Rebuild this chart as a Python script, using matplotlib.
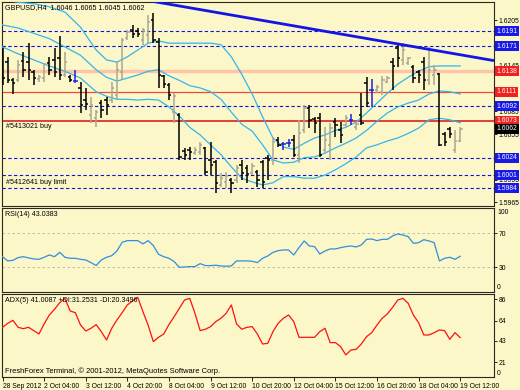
import matplotlib
matplotlib.use("Agg")
import matplotlib.pyplot as plt
from matplotlib.transforms import blended_transform_factory

plt.rcParams['font.family'] = ['Liberation Sans', 'DejaVu Sans']

# ---------------- data ----------------
title_text = "GBPUSD,H4  1.6046 1.6065 1.6045 1.6062"

opens = [1.6159, 1.6150, 1.6126, 1.6126, 1.6152, 1.6150, 1.6137, 1.6128, 1.6129, 1.6149,
         1.6153, 1.6155, 1.6133, 1.6130, 1.6125, 1.6116, 1.6100, 1.6080, 1.6076, 1.6096,
         1.6100, 1.6100, 1.6107, 1.6137, 1.6182, 1.6192, 1.6191, 1.6179, 1.6186, 1.6205,
         1.6177, 1.6132, 1.6120, 1.6084, 1.6080, 1.6033, 1.6034, 1.6030, 1.6032, 1.6037,
         1.6021, 1.6018, 1.5988, 1.5992, 1.5995, 1.5995, 1.6014, 1.6010, 1.6004, 1.6005,
         1.6018, 1.6024, 1.6021, 1.6047, 1.6042, 1.6043, 1.6047, 1.6028, 1.6061, 1.6090,
         1.6075, 1.6076, 1.6034, 1.6041, 1.6071, 1.6061, 1.6067, 1.6074, 1.6065, 1.6080,
         1.6122, 1.6113, 1.6113, 1.6111, 1.6124, 1.6150, 1.6169, 1.6153, 1.6149, 1.6144,
         1.6137, 1.6150, 1.6126, 1.6133, 1.6134, 1.6055, 1.6062, 1.6034, 1.6046]
highs = [1.6169, 1.6157, 1.6129, 1.6153, 1.6163, 1.6175, 1.6140, 1.6133, 1.6149, 1.6157,
         1.6169, 1.6184, 1.6163, 1.6133, 1.6140, 1.6124, 1.6116, 1.6104, 1.6087, 1.6100,
         1.6104, 1.6124, 1.6150, 1.6182, 1.6192, 1.6199, 1.6195, 1.6195, 1.6212, 1.6215,
         1.6182, 1.6133, 1.6123, 1.6109, 1.6083, 1.6037, 1.6038, 1.6038, 1.6045, 1.6038,
         1.6045, 1.6021, 1.6004, 1.6005, 1.5997, 1.6014, 1.6021, 1.6014, 1.6017, 1.6008,
         1.6021, 1.6028, 1.6051, 1.6051, 1.6045, 1.6049, 1.6054, 1.6074, 1.6094, 1.6094,
         1.6078, 1.6083, 1.6065, 1.6070, 1.6076, 1.6071, 1.6080, 1.6082, 1.6071, 1.6109,
         1.6130, 1.6128, 1.6120, 1.6132, 1.6132, 1.6155, 1.6175, 1.6175, 1.6157, 1.6146,
         1.6140, 1.6157, 1.6170, 1.6146, 1.6136, 1.6058, 1.6065, 1.6060, 1.6065]
lows = [1.6120, 1.6123, 1.6108, 1.6124, 1.6130, 1.6126, 1.6120, 1.6124, 1.6124, 1.6133,
        1.6130, 1.6126, 1.6130, 1.6124, 1.6123, 1.6083, 1.6087, 1.6070, 1.6065, 1.6076,
        1.6080, 1.6096, 1.6100, 1.6126, 1.6179, 1.6182, 1.6183, 1.6173, 1.6175, 1.6175,
        1.6116, 1.6116, 1.6100, 1.6070, 1.6021, 1.6021, 1.6021, 1.6028, 1.6028, 1.6001,
        1.6001, 1.5978, 1.5985, 1.5984, 1.5978, 1.5991, 1.5995, 1.5991, 1.6001, 1.5985,
        1.5984, 1.5995, 1.6014, 1.6038, 1.6034, 1.6038, 1.6025, 1.6017, 1.6057, 1.6063,
        1.6057, 1.6025, 1.6030, 1.6021, 1.6051, 1.6043, 1.6063, 1.6067, 1.6061, 1.6067,
        1.6091, 1.6091, 1.6109, 1.6107, 1.6123, 1.6113, 1.6144, 1.6146, 1.6146, 1.6123,
        1.6123, 1.6113, 1.6120, 1.6120, 1.6039, 1.6039, 1.6050, 1.6030, 1.6045]
closes = [1.6129, 1.6126, 1.6123, 1.6146, 1.6140, 1.6140, 1.6129, 1.6130, 1.6148, 1.6140,
          1.6137, 1.6133, 1.6150, 1.6126, 1.6125, 1.6094, 1.6095, 1.6094, 1.6084, 1.6087,
          1.6094, 1.6116, 1.6140, 1.6179, 1.6190, 1.6187, 1.6187, 1.6192, 1.6203, 1.6179,
          1.6133, 1.6121, 1.6107, 1.6105, 1.6025, 1.6028, 1.6032, 1.6034, 1.6041, 1.6005,
          1.6014, 1.5991, 1.5997, 1.6000, 1.5991, 1.6010, 1.6004, 1.6003, 1.6013, 1.5995,
          1.5992, 1.6021, 1.6045, 1.6041, 1.6042, 1.6043, 1.6028, 1.6057, 1.6090, 1.6074,
          1.6070, 1.6028, 1.6047, 1.6063, 1.6067, 1.6054, 1.6076, 1.6074, 1.6068, 1.6070,
          1.6096, 1.6113, 1.6117, 1.6126, 1.6129, 1.6145, 1.6155, 1.6166, 1.6155, 1.6129,
          1.6133, 1.6126, 1.6140, 1.6140, 1.6041, 1.6045, 1.6055, 1.6046, 1.6062]

band_bars = [0, 3, 6, 9, 12, 15, 18, 20, 22, 24, 26, 28, 30, 32, 34, 36, 38, 40, 42, 44,
             46, 48, 50, 52, 54, 56, 58, 60, 62, 64, 66, 68, 70, 72, 74, 76, 78, 80, 82, 84,
             86, 88]
band_upper = [1.6232, 1.6229, 1.6227, 1.6223, 1.6216, 1.6196, 1.6166, 1.6153, 1.6150, 1.6157,
              1.6166, 1.6175, 1.6178, 1.6175, 1.6175, 1.6175, 1.6175, 1.6175, 1.6173, 1.6157,
              1.6134, 1.6108, 1.6078, 1.6050, 1.6038, 1.6035, 1.6043, 1.6050, 1.6054, 1.6060,
              1.6064, 1.6071, 1.6083, 1.6096, 1.6109, 1.6121, 1.6130, 1.6138, 1.6144, 1.6145,
              1.6145, 1.6145]
band_middle = [1.6199, 1.6195, 1.6188, 1.6181, 1.6170, 1.6159, 1.6140, 1.6130, 1.6125, 1.6129,
               1.6133, 1.6138, 1.6140, 1.6132, 1.6126, 1.6119, 1.6116, 1.6111, 1.6101, 1.6084,
               1.6068, 1.6059, 1.6041, 1.6021, 1.6017, 1.6018, 1.6024, 1.6025, 1.6030, 1.6037,
               1.6043, 1.6050, 1.6060, 1.6072, 1.6083, 1.6091, 1.6096, 1.6100, 1.6108, 1.6112,
               1.6111, 1.6108]
band_lower = [1.6170, 1.6161, 1.6153, 1.6145, 1.6138, 1.6129, 1.6111, 1.6105, 1.6101, 1.6101,
              1.6100, 1.6101, 1.6100, 1.6091, 1.6079, 1.6064, 1.6054, 1.6041, 1.6028, 1.6012,
              1.5997, 1.5992, 1.5988, 1.5991, 1.5999, 1.5999, 1.5997, 1.5997, 1.6001, 1.6008,
              1.6016, 1.6025, 1.6037, 1.6041, 1.6046, 1.6050, 1.6056, 1.6063, 1.6074, 1.6076,
              1.6074, 1.6070]

rsi = [42.5, 37.5, 38.2, 41.4, 42.5, 41.0, 39.8, 39.4, 41.8, 44.5,
       42.5, 47.6, 41.8, 40.6, 40.6, 39.4, 38.6, 35.5, 32.0, 38.6,
       41.8, 43.7, 49.2, 59.4, 61.4, 61.4, 61.4, 57.5, 61.4, 55.5,
       45.3, 42.5, 40.6, 36.7, 30.0, 30.4, 30.8, 30.8, 34.3, 32.0,
       32.0, 32.4, 31.6, 31.2, 31.6, 37.5, 37.5, 37.5, 37.1, 35.5,
       40.6, 43.3, 47.6, 49.6, 50.4, 50.4, 44.5, 53.1, 61.0, 55.1,
       54.3, 45.7, 49.2, 51.6, 51.6, 53.1, 54.3, 55.1, 53.9, 56.3,
       62.9, 63.3, 61.4, 62.9, 62.9, 66.9, 69.2, 68.0, 66.1, 58.2,
       59.0, 62.5, 61.0, 59.0, 37.5, 40.6, 41.8, 39.4, 43.0]
adx = [57.1, 61.2, 64.3, 57.1, 55.7, 57.1, 53.7, 50.2, 60.6, 69.8,
       75.7, 82.6, 87.0, 74.0, 72.2, 59.5, 53.3, 56.1, 59.9, 52.6,
       44.0, 56.1, 64.7, 72.2, 80.2, 84.3, 88.1, 73.3, 59.2, 42.3,
       46.8, 50.2, 59.9, 68.1, 76.7, 85.3, 87.0, 71.6, 53.7, 55.1,
       57.8, 63.0, 66.4, 71.6, 80.2, 60.6, 55.1, 57.1, 57.8, 50.2,
       39.9, 40.6, 52.6, 61.2, 66.4, 69.8, 63.0, 46.8, 46.8, 46.8,
       46.8, 52.6, 56.1, 41.3, 41.3, 37.2, 28.6, 33.7, 34.4, 39.9,
       47.5, 51.6, 59.5, 66.4, 70.9, 77.7, 85.3, 87.0, 81.9, 69.8,
       61.9, 49.2, 49.2, 51.6, 54.4, 53.7, 44.7, 51.6, 46.5]

time_label_bars = [0, 8, 16, 24, 32, 40, 48, 56, 64, 72, 80, 88]
time_labels = ["28 Sep 2012", "2 Oct 04:00", "3 Oct 12:00", "4 Oct 20:00", "8 Oct 04:00",
               "9 Oct 12:00", "10 Oct 20:00", "12 Oct 04:00", "15 Oct 12:00", "16 Oct 20:00",
               "18 Oct 04:00", "19 Oct 12:00"]

price_ticks = [1.5965, 1.5995, 1.6025, 1.6055, 1.6085, 1.6115, 1.6145, 1.6175, 1.6205]
hidden_price_labels = [1.6025, 1.6115, 1.6175]   # covered by level boxes in the reference
blue_levels = [1.6191, 1.6171, 1.6092, 1.6024, 1.6001, 1.5984]
red_levels = [1.6111, 1.6073]
salmon_level = 1.6138
current_price = 1.6062
trend_bars = [29.0, 94.5]
trend_prices = [1.6230, 1.6152]
order_buy = ("#5413021 buy", 1.6073)
order_limit = ("#5412641 buy limit", 1.5984)

rsi_levels = [30, 70]
adx_ticks = [86, 64, 43, 21]

# ---------------- style ----------------
BG = '#fcf7c8'
BEAR = '#000000'
BULL = '#a9a792'
DOJI = '#2020e0'
BAND = '#33b6ee'
LVL_BLUE = '#1010d8'
FS = 4.9

W, H = 520, 390
fig = plt.figure(figsize=(5.2, 3.9), dpi=100)
fig.patch.set_facecolor(BG)


def frac(l, t, r, b):
    return [l / W, 1 - b / H, (r - l) / W, (b - t) / H]


ax = fig.add_axes(frac(2, 2, 494, 206))
axr = fig.add_axes(frac(2, 208, 494, 292), sharex=ax)
axa = fig.add_axes(frac(2, 294, 494, 377), sharex=ax)

for a in (ax, axr, axa):
    a.set_facecolor(BG)
    for s in a.spines.values():
        s.set_color('#2a2a20')
        s.set_linewidth(0.8)
    a.yaxis.tick_right()
    a.tick_params(axis='y', labelsize=FS, length=2, width=0.6, pad=1.5, colors='black')

ax.set_xlim(-0.1, 94.5)

# ---------------- main price panel ----------------
n = len(opens)
bars = list(range(n))
cols = [DOJI if o == c else (BULL if c > o else BEAR) for o, c in zip(opens, closes)]
ax.vlines(bars, lows, highs, colors=cols, lw=1.1, zorder=4)
ax.hlines(opens, [b - 0.45 for b in bars], bars, colors=cols, lw=1.1, zorder=4)
ax.hlines(closes, bars, [b + 0.45 for b in bars], colors=cols, lw=1.1, zorder=4)

for band in (band_upper, band_middle, band_lower):
    ax.plot(band_bars, band, color=BAND, lw=0.9, zorder=3)

ax.axhline(salmon_level, color='#ffc3a6', lw=2.4, zorder=1)
for p in blue_levels:
    ax.axhline(p, color=LVL_BLUE, lw=0.8, ls=(0, (3, 2.2)), zorder=2)
ax.axhline(red_levels[0], color='#f04a3a', lw=0.9, zorder=2)
ax.axhline(red_levels[1], color='#d81010', lw=1.1, zorder=2)

ax.plot(trend_bars, trend_prices, color='#1414e6', lw=2.0, zorder=5, solid_capstyle='butt')

ax.set_ylim(1.59603, 1.62293)
ax.set_yticks(price_ticks)
ax.set_yticklabels(["" if p in hidden_price_labels else f"{p:.4f}" for p in price_ticks])
ax.tick_params(axis='x', bottom=False, labelbottom=False)

bt = blended_transform_factory(ax.transAxes, ax.transData)
box_x = 1.005
for p in blue_levels:
    ax.text(box_x, p, f"{p:.4f}", transform=bt, fontsize=FS, color='white', va='center',
            ha='left', zorder=20, clip_on=False,
            bbox=dict(boxstyle='square,pad=0.22', fc='#1818e8', ec='none'))
for p in red_levels + [salmon_level]:
    ax.text(box_x, p, f"{p:.4f}", transform=bt, fontsize=FS, color='white', va='center',
            ha='left', zorder=20, clip_on=False,
            bbox=dict(boxstyle='square,pad=0.22', fc='#f02020', ec='none'))
ax.text(box_x, current_price, f"{current_price:.4f}", transform=bt, fontsize=FS, color='white',
        va='center', ha='left', zorder=21, clip_on=False,
        bbox=dict(boxstyle='square,pad=0.22', fc='#000000', ec='none'))

ax.text(0.006, 0.992, title_text, transform=ax.transAxes, fontsize=FS + 0.2, va='top',
        ha='left', color='black', zorder=20)
ax.annotate(order_buy[0], xy=(0.008, order_buy[1]), xycoords=bt, xytext=(0, -2),
            textcoords='offset points', fontsize=FS + 0.2, va='top', ha='left', zorder=20)
ax.annotate(order_limit[0], xy=(0.008, order_limit[1]), xycoords=bt, xytext=(0, 1.8),
            textcoords='offset points', fontsize=FS + 0.2, va='bottom', ha='left', zorder=20)

# ---------------- RSI panel ----------------
axr.plot(bars, rsi, color='#2f8fe0', lw=0.9, zorder=3)
for lv in rsi_levels:
    axr.axhline(lv, color='#b8b4a0', lw=0.6, ls=(0, (3, 3)), zorder=1)
axr.set_ylim(0.9, 99.8)
axr.set_yticks(rsi_levels)
axr.set_yticklabels([str(v) for v in rsi_levels])
axr.tick_params(axis='x', bottom=False, labelbottom=False)
axr.text(1.006, 0.95, "100", transform=axr.transAxes, fontsize=FS, va='center', ha='left')
axr.text(1.006, 0.05, "0", transform=axr.transAxes, fontsize=FS, va='center', ha='left')
axr.text(0.006, 0.96, f"RSI(14) {43.0383:.4f}", transform=axr.transAxes, fontsize=FS + 0.2,
         va='top', ha='left')

# ---------------- ADX panel ----------------
axa.plot(bars, adx, color='#ff1010', lw=0.9, zorder=3)
axa.set_ylim(5.8, 91.5)
axa.set_yticks(adx_ticks)
axa.set_yticklabels([str(v) for v in adx_ticks])
axa.text(1.006, 0.04, "0", transform=axa.transAxes, fontsize=FS, va='center', ha='left')
axa.text(0.006, 0.965, "ADX(5) 41.0087 +DI:31.2531 -DI:20.3496", transform=axa.transAxes,
         fontsize=FS + 0.2, va='top', ha='left')
axa.text(0.006, 0.03, "FreshForex Terminal, \u00a9 2001-2012, MetaQuotes Software Corp.",
         transform=axa.transAxes, fontsize=FS + 0.5, va='bottom', ha='left')
axa.set_xticks(time_label_bars)
axa.set_xticklabels(time_labels)
axa.tick_params(axis='x', labelsize=FS, length=3, width=0.6, pad=1, colors='black')
for lab in axa.get_xticklabels():
    lab.set_horizontalalignment('left')

fig.savefig("out.png", dpi=100, facecolor=BG)
